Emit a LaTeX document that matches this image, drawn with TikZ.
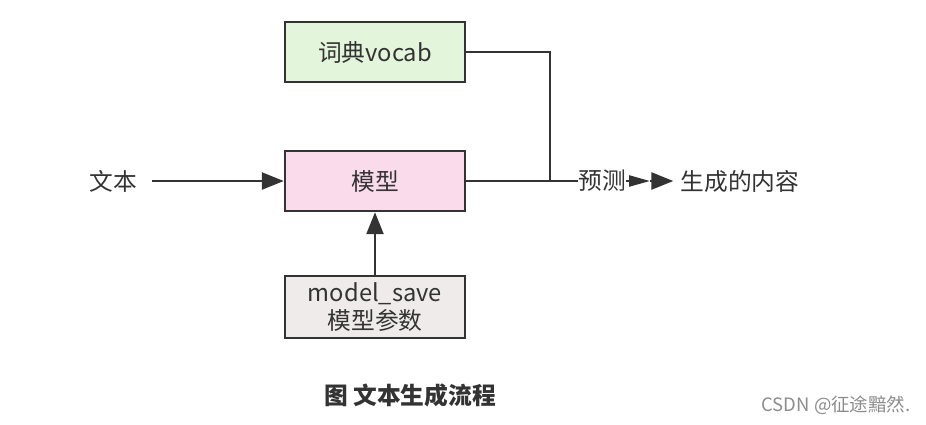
\documentclass[tikz,border=0pt]{standalone}
\usepackage{fontspec}
\setmainfont{Noto Sans CJK SC}
\usepackage{tikz}
\usetikzlibrary{arrows.meta}
\definecolor{vocabgreen}{RGB}{227,245,219}
\definecolor{modelpink}{RGB}{250,219,235}
\definecolor{paramgray}{RGB}{239,235,234}
\definecolor{edgegray}{RGB}{51,51,51}
\tikzstyle{arrow} = [-{Triangle[length=0.44cm,width=0.34cm]},draw=edgegray,line width=1.4pt]
\tikzstyle{smallarrow} = [-{Triangle[length=0.42cm,width=0.22cm]},draw=edgegray,line width=1.4pt]
\tikzstyle{line} = [draw=edgegray,line width=1.4pt]
\tikzstyle{box} = [draw=edgegray,line width=1.4pt,minimum width=3.6cm,minimum height=1.2cm,align=center,font=\fontsize{13.5}{15.5}\selectfont,text=edgegray]
\tikzstyle{txt} = [inner sep=0pt,font=\fontsize{13.5}{15.5}\selectfont,text=edgegray]

\begin{document}
\begin{tikzpicture}[x=0.02cm,y=-0.02cm]
          \useasboundingbox (0,0) rectangle (926,424);
          \node[box, fill=vocabgreen] at (375,52) (vocab) {词典vocab};
          \node[box, fill=modelpink] at (375,181) (model) {模型};
          \node[box, fill=paramgray, minimum height=1.24cm] at (375,307) (params) {model\_save\\模型参数};
          \node[txt, inner xsep=0.3cm] at (113,181) (text) {文本};
          \node[txt] at (602,181) (pred) {预测};
          \node[txt, inner xsep=0.14cm] at (740,181) (out) {生成的内容};
          \coordinate (join) at (550,181);
          \coordinate (mid) at (650,181);

          \draw[arrow] (text) -- (model);
          \draw[arrow] (params) -- (model);
          \draw[line] (vocab.east) -| (join);
          \draw[line] (model) -- (pred);
          \draw[smallarrow] (pred) -- (mid);
          \draw[arrow] (mid) -- (out);

          \node[font=\fontsize{13.5}{16}\selectfont\bfseries, text=edgegray] at (410,395) (title) {图\ 文本生成流程};
          \node[font=\fontsize{10.5}{12}\selectfont, text=black!45] at (836,405) (mark) {CSDN @征途黯然.};
        \end{tikzpicture}
\end{document}
